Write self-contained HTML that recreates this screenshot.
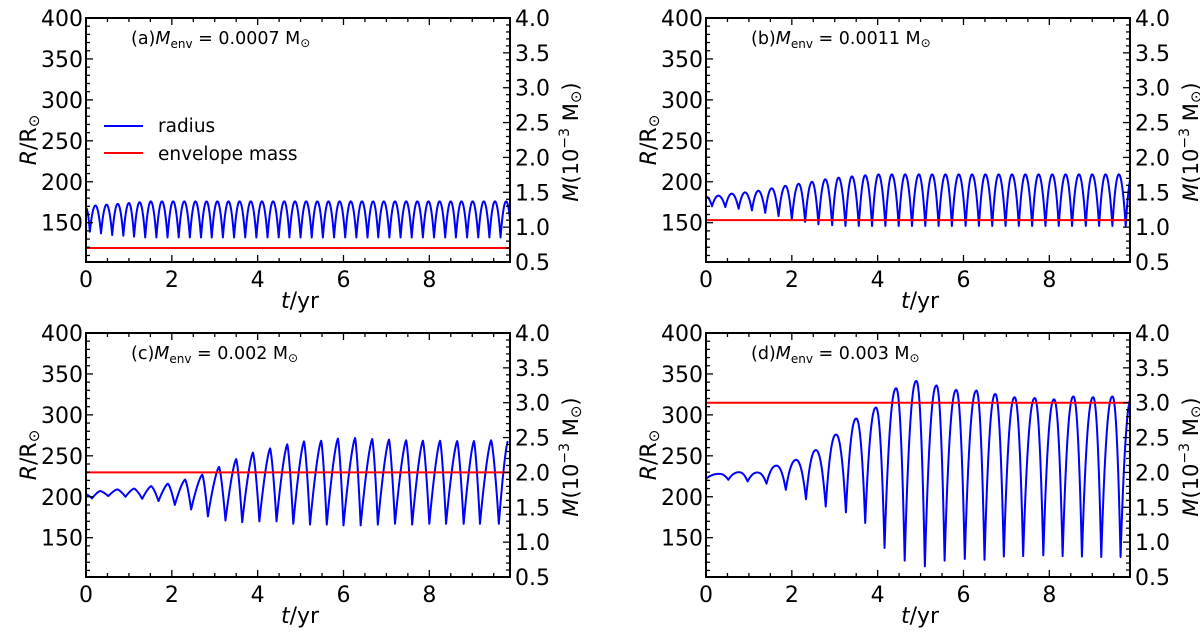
<!DOCTYPE html>
<html><head><meta charset="utf-8">
<style>
html,body{margin:0;padding:0;background:#fff;}
svg{display:block;font-family:"DejaVu Sans","Liberation Sans",sans-serif;}
</style></head>
<body>
<svg id="fig" width="1200" height="637" viewBox="0 0 1200 637" xmlns="http://www.w3.org/2000/svg"></svg>
<script>
// ---- data ----
const xTicks = [0, 2, 4, 6, 8];
const rTicks = [150, 200, 250, 300, 350, 400];
const mTicks = ["0.5","1.0","1.5","2.0","2.5","3.0","3.5","4.0"];
const panelLabels = ["(a)", "(b)", "(c)", "(d)"];
const envMass = ["0.0007", "0.0011", "0.002", "0.003"];
const envMassLine = [0.7, 1.1, 2.0, 3.0];
const startR = [168, 182, 203, 222];

const peakT_a = [0.22,0.48,0.74,1.0,1.25,1.51,1.77,2.03,2.29,2.55,2.81,3.06,3.32,3.58,3.84,4.10,4.36,4.62,4.87,5.13,5.39,5.65,5.91,6.17,6.43,6.69,6.94,7.20,7.46,7.72,7.98,8.24,8.50,8.75,9.01,9.27,9.53,9.79];
const peakR_a = [171,172,173,174,175,176,176,176,176,176,176,176,176,176,176,176,176,176,176,176,176,176,176,176,176,176,176,176,176,176,176,176,176,176,176,176,176,176];
const troughT_a = [0.09,0.35,0.61,0.87,1.12,1.38,1.64,1.90,2.16,2.42,2.68,2.93,3.19,3.45,3.71,3.97,4.23,4.49,4.74,5.00,5.26,5.52,5.78,6.04,6.30,6.56,6.81,7.07,7.33,7.59,7.85,8.11,8.37,8.62,8.88,9.14,9.40,9.66,9.92];
const troughR_a = [139,137,135,134,133,132,132,132,132,132,132,132,132,132,132,132,132,132,132,132,132,132,132,132,132,132,132,132,132,132,132,132,132,132,132,132,132,132,132];

const peakT_b = [0.29,0.60,0.91,1.22,1.53,1.85,2.16,2.47,2.78,3.09,3.40,3.71,4.02,4.33,4.64,4.96,5.27,5.58,5.89,6.20,6.51,6.82,7.13,7.44,7.75,8.07,8.38,8.69,9.00,9.31,9.62,9.93];
const peakR_b = [183,185.5,187,189,192,195,197.5,200,203,205,206.6,208,209,209,209,209,209,209,209,209,209,209,209,209,209,209,209,209,209,209,209,209];
const troughT_b = [0.14,0.45,0.76,1.07,1.38,1.69,2.0,2.31,2.62,2.94,3.25,3.56,3.87,4.18,4.49,4.80,5.11,5.42,5.73,6.05,6.36,6.67,6.98,7.29,7.60,7.91,8.22,8.53,8.85,9.16,9.47,9.78];
const troughR_b = [170,169,167,165,162,158,154,151,148,147,146,146,146,146,146,146,146,146,146,146,146,146,146,146,146,146,146,146,146,146,146,146];

const peakT_c = [0.33,0.73,1.12,1.52,1.91,2.31,2.71,3.10,3.50,3.89,4.29,4.69,5.08,5.48,5.87,6.27,6.67,7.06,7.46,7.85,8.25,8.65,9.04,9.44,9.83];
const peakR_c = [207,209,210,213,216,221,227,236.5,246,254,259,264,267.6,268.4,271,271.7,270.5,269.7,269,268.4,268.4,268,268,269,268];
const troughT_c = [0.14,0.52,0.92,1.31,1.69,2.07,2.45,2.84,3.25,3.64,4.04,4.44,4.83,5.22,5.61,6.0,6.40,6.80,7.20,7.60,8.0,8.39,8.80,9.18,9.62];
const troughR_c = [198,200.8,200,197.5,194.7,190,184.4,176,171,169,170,170,167,166,166,165,165,166,167,166,167,167,167,167,167];

const peakT_d = [0.31,0.77,1.2,1.64,2.10,2.56,3.03,3.50,3.96,4.43,4.90,5.37,5.83,6.30,6.74,7.19,7.66,8.11,8.56,9.02,9.47,9.92];
const peakR_d = [228,230,229.6,238,245,257,276,295.5,309,332.5,341.5,336,330.5,329.7,325.6,321.6,320.6,319,322.5,321.6,322.5,322];
const troughT_d = [0.52,0.97,1.41,1.86,2.33,2.79,3.26,3.71,4.16,4.63,5.1,5.56,6.03,6.49,6.94,7.39,7.86,8.31,8.76,9.21,9.66];
const troughR_d = [220.7,218.7,216,208.5,197,188,181,168,137.4,122,115,122,124,123,127,127.5,128.4,127.5,127,126.5,126.5];

const peaksT = [peakT_a, peakT_b, peakT_c, peakT_d];
const peaksR = [peakR_a, peakR_b, peakR_c, peakR_d];
const troughsT = [troughT_a, troughT_b, troughT_c, troughT_d];
const troughsR = [troughR_a, troughR_b, troughR_c, troughR_d];

// ---- layout ----
const NS = "http://www.w3.org/2000/svg";
const svg = document.getElementById("fig");
const offsets = [[0,0],[620,0],[0,315],[620,315]];
const L = 86, Rr = 510, T = 18, B = 262;
const xMin = 0, xMax = 9.88, rMin = 102, rMax = 400, mMin = 0.5, mMax = 4.0;
const sharp = [2, 2, 1.4, 2.2];

function mk(tag, attrs, parent) {
  const e = document.createElementNS(NS, tag);
  for (const k in attrs) e.setAttribute(k, attrs[k]);
  (parent || svg).appendChild(e);
  return e;
}

for (let p = 0; p < 4; p++) {
  const [ox, oy] = offsets[p];
  const xs = t => ox + L + (t - xMin) / (xMax - xMin) * (Rr - L);
  const ys = r => oy + B - (r - rMin) / (rMax - rMin) * (B - T);
  const ym = m => oy + B - (m - mMin) / (mMax - mMin) * (B - T);
  const g = mk("g", {});
  
  

  const clipId = "clip" + p;
  const cp = mk("clipPath", {id: clipId}, g);
  mk("rect", {x: ox + L, y: oy + T, width: Rr - L, height: B - T}, cp);

  const pts = [[0, startR[p]]];
  peaksT[p].forEach((t, i) => pts.push([t, peaksR[p][i]]));
  troughsT[p].forEach((t, i) => pts.push([t, troughsR[p][i]]));
  pts.sort((a, b) => a[0] - b[0]);
  let d = "M" + xs(pts[0][0]).toFixed(2) + "," + ys(pts[0][1]).toFixed(2);
  const k = sharp[p];
  for (let i = 1; i < pts.length; i++) {
    const [t1, r1] = pts[i-1], [t2, r2] = pts[i];
    const n = 14;
    for (let j = 1; j <= n; j++) {
      const s = j / n;
      let f;
      if (r2 < r1) f = Math.pow(s, k);
      else f = 1 - Math.pow(1 - s, k);
      const t = t1 + (t2 - t1) * s;
      const r = r1 + (r2 - r1) * f;
      d += "L" + xs(t).toFixed(2) + "," + ys(r).toFixed(2);
    }
  }
  const line = mk("path", {d: d, fill: "none", stroke: "#0000ff", "stroke-width": 2, "clip-path": "url(#" + clipId + ")", "stroke-linejoin": "round"}, g);
  
  

  const red = mk("line", {x1: ox + L, x2: ox + Rr, y1: ym(envMassLine[p]), y2: ym(envMassLine[p]), stroke: "#ff0000", "stroke-width": 2}, g);
  
  

  const tk = mk("g", {stroke: "#000", "stroke-width": 1.3}, g);
  
  
  for (let t = 0; t <= xMax + 1e-6; t += 0.5) {
    const major = Math.abs(t % 2) < 1e-6;
    const len = major ? 7 : 4;
    mk("line", {x1: xs(t), x2: xs(t), y1: oy + B, y2: oy + B - len}, tk);
    mk("line", {x1: xs(t), x2: xs(t), y1: oy + T, y2: oy + T + len}, tk);
  }
  for (let r = 110; r <= 400; r += 10) {
    const major = r % 50 === 0;
    mk("line", {x1: ox + L, x2: ox + L + (major ? 7 : 4), y1: ys(r), y2: ys(r)}, tk);
  }
  for (let m = 5; m <= 40; m += 1) {
    const major = m % 5 === 0;
    mk("line", {x1: ox + Rr, x2: ox + Rr - (major ? 7 : 4), y1: ym(m / 10), y2: ym(m / 10)}, tk);
  }

  const frame = mk("rect", {x: ox + L, y: oy + T, width: Rr - L, height: B - T, fill: "none", stroke: "#000", "stroke-width": 2}, g);
  
  

  xTicks.forEach(v => {
    const e = mk("text", {x: xs(v), y: oy + B + 25, "font-size": 22, "text-anchor": "middle"}, g);
    e.textContent = v;
    
    
  });
  rTicks.forEach(v => {
    const e = mk("text", {x: ox + L - 3, y: ys(v) + 8, "font-size": 22, "text-anchor": "end"}, g);
    e.textContent = v;
    
    
  });
  mTicks.forEach(v => {
    const e = mk("text", {x: ox + Rr + 5, y: ym(parseFloat(v)) + 8, "font-size": 22, "text-anchor": "start"}, g);
    e.textContent = v;
    
    
  });

  const xt = mk("text", {x: ox + 300, y: oy + 308, "font-size": 22, "text-anchor": "middle"}, g);
  xt.innerHTML = '<tspan font-style="italic">t</tspan>/yr';
  
  
  const yl = mk("text", {x: 0, y: 0, "font-size": 22, "text-anchor": "middle", transform: "translate(" + (ox + 36) + "," + (oy + 140) + ") rotate(-90)"}, g);
  yl.innerHTML = '<tspan font-style="italic">R</tspan>/R<tspan font-size="15" dy="3">⊙</tspan>';
  
  
  const yr = mk("text", {x: 0, y: 0, "font-size": 21, "text-anchor": "middle", transform: "translate(" + (ox + 578) + "," + (oy + 142) + ") rotate(-90)"}, g);
  yr.innerHTML = '<tspan font-style="italic">M</tspan>(10<tspan font-size="14" dy="-9">−3</tspan><tspan dy="9"> M</tspan><tspan font-size="15" dy="3">⊙</tspan><tspan dy="-3">)</tspan>';
  
  

  const an = mk("text", {x: ox + 131, y: oy + 44, "font-size": 17.5}, g);
  an.innerHTML = panelLabels[p] + '<tspan font-style="italic">M</tspan><tspan font-size="12" dy="4">env</tspan><tspan dy="-4"> = ' + envMass[p] + ' M</tspan><tspan font-size="12" dy="3">⊙</tspan>';
  
  

  if (p === 0) {
    const lg = mk("g", {}, g);
    
    
    const l1 = mk("g", {}, lg);
    
    
    mk("line", {x1: 104, x2: 143, y1: 126, y2: 126, stroke: "#0000ff", "stroke-width": 2}, l1);
    const t1 = mk("text", {x: 158, y: 132, "font-size": 18.5}, l1);
    t1.textContent = "radius";
    const l2 = mk("g", {}, lg);
    
    
    mk("line", {x1: 104, x2: 143, y1: 153, y2: 153, stroke: "#ff0000", "stroke-width": 2}, l2);
    const t2 = mk("text", {x: 158, y: 160, "font-size": 18.5}, l2);
    t2.textContent = "envelope mass";
  }
}
</script>
</body></html>
